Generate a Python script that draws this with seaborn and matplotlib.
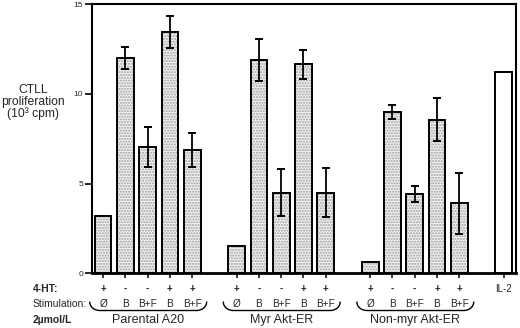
import numpy as np
import pandas as pd
import matplotlib
matplotlib.use("Agg")
import matplotlib.pyplot as plt
import seaborn as sns

# ---- data ----
groups = ["Parental A20", "Myr Akt-ER", "Non-myr Akt-ER"]
ht_labels = ["+", "-", "-", "+", "+"]
stim_labels = ["Ø", "B", "B+F", "B", "B+F"]

parental_vals = [3.2, 12.0, 7.05, 13.45, 6.9]
parental_err = [np.nan, 0.6, 1.1, 0.9, 0.95]
myr_vals = [1.5, 11.9, 4.5, 11.65, 4.5]
myr_err = [np.nan, 1.15, 1.3, 0.8, 1.35]
nonmyr_vals = [0.65, 9.0, 4.4, 8.55, 3.9]
nonmyr_err = [np.nan, 0.38, 0.45, 1.2, 1.7]
il2_label = "IL-2"
il2_val = 11.2

y_ticks = [0, 5, 10, 15]

# ---- layout helpers ----
group_vals = [parental_vals, myr_vals, nonmyr_vals]
group_errs = [parental_err, myr_err, nonmyr_err]
pos, vals, errs = [], [], []
for g, (v, e) in enumerate(zip(group_vals, group_errs)):
    for i in range(len(v)):
        pos.append(g * 6 + i)
        vals.append(v[i])
        errs.append(e[i])
il2_pos = 18

df_stip = pd.DataFrame({"pos": pos, "val": vals})
df_all = pd.DataFrame({"pos": pos + [il2_pos], "val": vals + [il2_val]})

sns.set_style("ticks")
plt.rcParams["font.family"] = ["Liberation Sans", "DejaVu Sans"]

W, H = 520, 328
fig = plt.figure(figsize=(W / 100, H / 100), dpi=100)
ax_l, ax_r, ax_t, ax_b = 92, 516, 4.3, 273.3
ax = fig.add_axes([ax_l / W, 1 - ax_b / H, (ax_r - ax_l) / W, (ax_b - ax_t) / H])

# stippled fill layer
sns.barplot(data=df_stip, x="pos", y="val", native_scale=True, width=0.75,
            color="#f1f1f1", edgecolor="#9e9e9e", linewidth=0, errorbar=None,
            saturation=1, ax=ax)
for p in ax.patches:
    p.set_hatch("......")
# outline layer (all bars incl. IL-2)
sns.barplot(data=df_all, x="pos", y="val", native_scale=True, width=0.75,
            color="black", fill=False, linewidth=1.4, errorbar=None,
            saturation=1, ax=ax)

ax.errorbar(pos, vals, yerr=errs, fmt="none", ecolor="black",
            elinewidth=1.3, capsize=2.6, capthick=1.4, zorder=5)

ax.set_xlim(-0.5, 18.55)
ax.set_ylim(0, 15)
ax.set_yticks(y_ticks)
ax.set_yticklabels([str(t) for t in y_ticks], fontsize=6)
ax.set_xticks(pos + [il2_pos])
ax.set_xticklabels([])
ax.tick_params(axis="y", length=5, width=1.2, pad=1.5, color="black")
ax.tick_params(axis="x", length=3.5, width=1.1, color="black")
ax.set_xlabel("")
ax.set_ylabel("")
for s in ["left", "top", "right"]:
    ax.spines[s].set_visible(True)
    ax.spines[s].set_linewidth(1.5)
    ax.spines[s].set_color("black")
ax.spines["bottom"].set_linewidth(2.0)
ax.spines["bottom"].set_color("black")

def fy(ypix):
    return (ax_b - ypix) / (ax_b - ax_t)

tr = ax.get_xaxis_transform()
row1, row2, row3 = fy(289), fy(304), fy(320)
for g in range(3):
    for i in range(5):
        x = g * 6 + i
        ax.text(x, row1, ht_labels[i], transform=tr, ha="center", va="center",
                fontsize=7, fontweight="bold", clip_on=False)
        ax.text(x, row2, stim_labels[i], transform=tr, ha="center", va="center",
                fontsize=7.2, clip_on=False)
    # bracket
    xl, xr = g * 6 - 0.6, g * 6 + 4 + 0.65
    ytop, ybot = fy(302), fy(310.5)
    rx = 0.45
    t = np.linspace(0, np.pi / 2, 20)
    lx = xl + rx * (1 - np.cos(t))
    ly = ybot + (ytop - ybot) * (1 - np.sin(t))
    rxs = xr - rx * (1 - np.cos(t[::-1]))
    rys = ybot + (ytop - ybot) * (1 - np.sin(t[::-1]))
    bx = np.concatenate([lx, rxs])
    by = np.concatenate([ly, rys])
    ax.plot(bx, by, transform=tr, color="black", lw=1.0, clip_on=False)
    ax.text(g * 6 + 2, row3, groups[g], transform=tr, ha="center", va="center",
            fontsize=9, clip_on=False)
ax.text(il2_pos, row1, il2_label, transform=tr, ha="center", va="center",
        fontsize=7, clip_on=False)

fig.text(33 / W, 1 - 289 / H, "4-HT:", ha="left", va="center", fontsize=7.5, fontweight="bold")
fig.text(33 / W, 1 - 304 / H, "Stimulation:", ha="left", va="center", fontsize=7.5)
fig.text(33 / W, 1 - 320 / H, "2µmol/L", ha="left", va="center", fontsize=7.5, fontweight="bold")
fig.text(33 / W, 1 - 102 / H, "CTLL\nproliferation\n(10³ cpm)", ha="center", va="center",
         fontsize=8.7, linespacing=1.0)

fig.savefig("out.png", dpi=100)
